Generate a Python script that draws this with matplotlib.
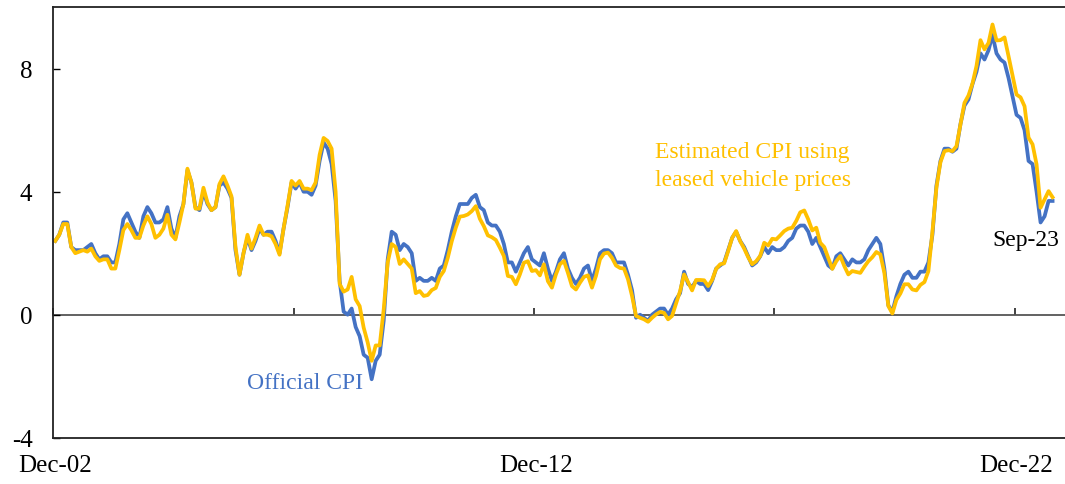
# Official CPI vs estimated CPI using leased vehicle prices (y/y %, monthly Dec-02 to Sep-23)

import numpy as np
import pandas as pd
import matplotlib
matplotlib.use('Agg')
import matplotlib.pyplot as plt

plt.rcParams['font.family'] = ['Liberation Serif', 'DejaVu Serif']

# Data (one value per month)
official = [2.4,
    2.6, 3.0, 3.0, 2.2, 2.1, 2.1, 2.1, 2.2, 2.3, 2.0, 1.8, 1.9,
    1.9, 1.7, 1.7, 2.3, 3.1, 3.3, 3.0, 2.7, 2.5, 3.2, 3.5, 3.3,
    3.0, 3.0, 3.1, 3.5, 2.8, 2.5, 3.2, 3.6, 4.7, 4.3, 3.5, 3.4,
    4.0, 3.6, 3.4, 3.5, 4.2, 4.3, 4.1, 3.8, 2.1, 1.3, 2.0, 2.5,
    2.1, 2.4, 2.8, 2.6, 2.7, 2.7, 2.4, 2.0, 2.8, 3.5, 4.3, 4.1,
    4.3, 4.0, 4.0, 3.9, 4.2, 5.0, 5.6, 5.4, 4.9, 3.7, 1.1, 0.1,
    0.0, 0.2, -0.4, -0.7, -1.3, -1.4, -2.1, -1.5, -1.3, -0.2, 1.8, 2.7,
    2.6, 2.1, 2.3, 2.2, 2.0, 1.1, 1.2, 1.1, 1.1, 1.2, 1.1, 1.5,
    1.6, 2.1, 2.7, 3.2, 3.6, 3.6, 3.6, 3.8, 3.9, 3.5, 3.4, 3.0,
    2.9, 2.9, 2.7, 2.3, 1.7, 1.7, 1.4, 1.7, 2.0, 2.2, 1.8, 1.7,
    1.6, 2.0, 1.5, 1.1, 1.4, 1.8, 2.0, 1.5, 1.2, 1.0, 1.2, 1.5,
    1.6, 1.1, 1.5, 2.0, 2.1, 2.1, 2.0, 1.7, 1.7, 1.7, 1.3, 0.8,
    -0.1, 0.0, -0.1, -0.2, 0.0, 0.1, 0.2, 0.2, 0.0, 0.2, 0.5, 0.7,
    1.4, 1.0, 0.9, 1.1, 1.0, 1.0, 0.8, 1.1, 1.5, 1.6, 1.7, 2.1,
    2.5, 2.7, 2.4, 2.2, 1.9, 1.6, 1.7, 1.9, 2.2, 2.0, 2.2, 2.1,
    2.1, 2.2, 2.4, 2.5, 2.8, 2.9, 2.9, 2.7, 2.3, 2.5, 2.2, 1.9,
    1.6, 1.5, 1.9, 2.0, 1.8, 1.6, 1.8, 1.7, 1.7, 1.8, 2.1, 2.3,
    2.5, 2.3, 1.5, 0.3, 0.1, 0.6, 1.0, 1.3, 1.4, 1.2, 1.2, 1.4,
    1.4, 1.7, 2.6, 4.2, 5.0, 5.4, 5.4, 5.3, 5.4, 6.2, 6.8, 7.0,
    7.5, 7.9, 8.5, 8.3, 8.6, 9.1, 8.5, 8.3, 8.2, 7.7, 7.1, 6.5,
    6.4, 6.0, 5.0, 4.9, 4.0, 3.0, 3.2, 3.7, 3.7]

estimated = [2.4,
    2.6, 2.95, 2.95, 2.2, 2.0, 2.05, 2.1, 2.05, 2.15, 1.9, 1.75, 1.8,
    1.8, 1.5, 1.5, 2.1, 2.75, 2.95, 2.75, 2.5, 2.5, 2.9, 3.2, 2.95,
    2.5, 2.6, 2.8, 3.25, 2.6, 2.45, 3.0, 3.6, 4.75, 4.3, 3.45, 3.45,
    4.13, 3.65, 3.4, 3.5, 4.25, 4.5, 4.2, 3.85, 2.2, 1.3, 2.0, 2.6,
    2.15, 2.5, 2.9, 2.6, 2.6, 2.55, 2.3, 1.95, 2.8, 3.55, 4.35, 4.2,
    4.35, 4.1, 4.1, 4.05, 4.3, 5.2, 5.75, 5.65, 5.4, 4.0, 1.0, 0.75,
    0.82, 1.23, 0.5, 0.28, -0.42, -0.9, -1.5, -1.0, -1.0, 0.17, 1.7, 2.3,
    2.2, 1.65, 1.8, 1.65, 1.5, 0.7, 0.77, 0.61, 0.64, 0.8, 0.87, 1.23,
    1.42, 1.85, 2.39, 2.83, 3.19, 3.21, 3.26, 3.37, 3.53, 3.12, 2.88, 2.58,
    2.52, 2.43, 2.18, 1.91, 1.26, 1.23, 0.99, 1.31, 1.69, 1.74, 1.42, 1.45,
    1.28, 1.64, 1.09, 0.88, 1.31, 1.64, 1.75, 1.36, 0.93, 0.82, 1.04, 1.23,
    1.28, 0.88, 1.26, 1.8, 1.99, 2.02, 1.85, 1.6, 1.52, 1.5, 1.15, 0.61,
    -0.04, -0.1, -0.15, -0.23, -0.1, 0.01, 0.09, 0.06, -0.15, -0.04, 0.36, 0.77,
    1.31, 1.06, 0.79, 1.13, 1.13, 1.12, 0.93, 1.13, 1.49, 1.64, 1.67, 2.07,
    2.5, 2.72, 2.39, 2.15, 1.87, 1.64, 1.74, 1.91, 2.34, 2.25, 2.47, 2.45,
    2.58, 2.72, 2.8, 2.83, 3.05, 3.33, 3.39, 3.1, 2.74, 2.83, 2.34, 2.2,
    1.85, 1.49, 1.74, 1.91, 1.58, 1.31, 1.42, 1.39, 1.36, 1.56, 1.74, 1.87,
    2.04, 1.96, 1.36, 0.28, 0.04, 0.48, 0.69, 0.99, 0.99, 0.82, 0.79, 0.97,
    1.06, 1.42, 2.7, 4.13, 4.96, 5.32, 5.35, 5.32, 5.48, 6.19, 6.89, 7.13,
    7.52, 8.09, 8.93, 8.63, 8.84, 9.44, 8.92, 8.93, 9.02, 8.41, 7.78, 7.16,
    7.07, 6.78, 5.76, 5.54, 4.89, 3.48, 3.75, 4.02, 3.82]

months = pd.date_range('2002-12-01', periods=len(official), freq='MS')
month_labels = months.strftime('%b-%y')
x = np.arange(len(official))

label_idx = [0, 120, 240]          # Dec-02, Dec-12, Dec-22
tick_idx = np.arange(0, len(official), 60) - 0.5
y_ticks = [-4, 0, 4, 8]

blue = '#4472C4'
gold = '#FFC000'

fig = plt.figure(figsize=(10.65, 4.85), dpi=100)
ax = fig.add_axes([0.05, 0.0955, 0.95, 0.8875])

ax.plot(x, official, color=blue, lw=2.7, solid_joinstyle='round')
ax.plot(x, estimated, color=gold, lw=2.7, solid_joinstyle='round')

ax.set_xlim(-0.5, 252.1)
ax.set_ylim(-4, 10)

# frame
for s in ['left', 'top', 'bottom']:
    ax.spines[s].set_linewidth(1.3)
    ax.spines[s].set_color('#222222')
ax.spines['right'].set_visible(False)

ax.set_yticks(y_ticks)
ax.set_yticklabels([str(v) for v in y_ticks])
ax.tick_params(axis='y', direction='in', length=5, width=1, pad=15, labelsize=18)

ax.set_xticks(label_idx)
ax.set_xticklabels([month_labels[i] for i in label_idx])
ax.tick_params(axis='x', length=0, pad=12, labelsize=18)

# horizontal axis crossing at zero, with ticks every 5 years
zax = ax.secondary_xaxis(0, transform=ax.transData)
zax.set_xticks(tick_idx)
zax.set_xticklabels([])
zax.tick_params(direction='in', length=5, width=1.2, color='#222222')
zax.spines['bottom'].set_color('#555555')
zax.spines['bottom'].set_linewidth(1.3)

# series labels
ax.text(62.3, -2.2, 'Official CPI', color=blue, fontsize=17, ha='center', va='center')
ax.text(149.7, 4.85, 'Estimated CPI using\nleased vehicle prices', color=gold,
        fontsize=17, ha='left', va='center', linespacing=1.45)
ax.text(242.3, 2.45, 'Sep-23', color='black', fontsize=17, ha='center', va='center')

fig.savefig('out.png', dpi=100)
